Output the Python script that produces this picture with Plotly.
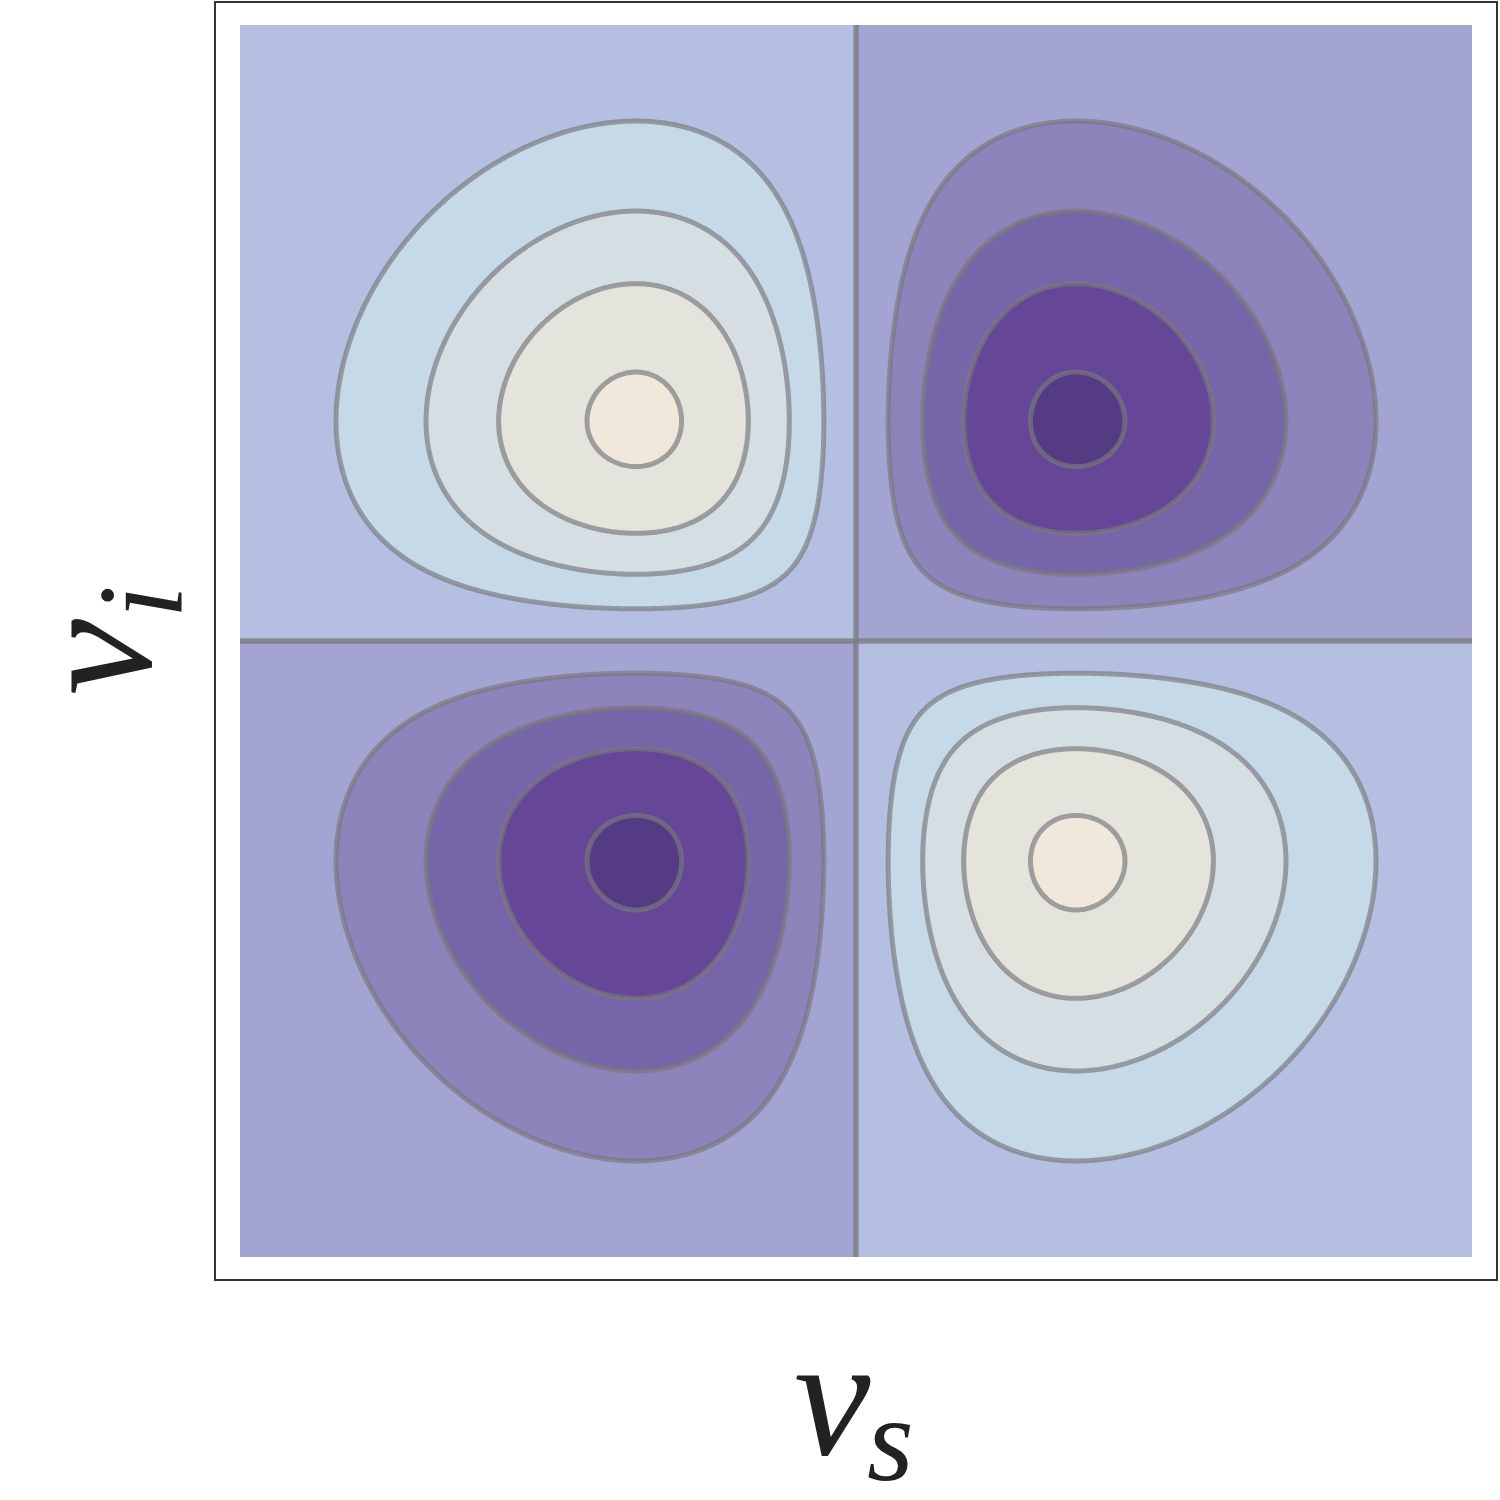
import numpy as np
import plotly.graph_objects as go

# Grid for the signal / idler frequency axes (arbitrary units)
nu_s = np.linspace(-2.8, 2.8, 500)
nu_i = np.linspace(-2.8, 2.8, 500)

# Contour levels of the amplitude
level_start = -0.3512
level_end = 0.3512
level_step = 0.0878

# Band colours, from most negative to most positive
band_colors = [
    "rgb(85,59,131)",
    "rgb(102,70,150)",
    "rgb(118,101,168)",
    "rgb(141,132,188)",
    "rgb(164,164,210)",
    "rgb(181,191,225)",
    "rgb(198,217,233)",
    "rgb(213,223,227)",
    "rgb(228,228,220)",
    "rgb(240,232,218)",
]

# First-order Hermite-Gaussian joint spectral amplitude
X, Y = np.meshgrid(nu_s, nu_i)
amp = -X * Y * np.exp(-(X**2 + Y**2) / 2.0)

n = len(band_colors)
colorscale = []
for k, c in enumerate(band_colors):
    colorscale.append([k / n, c])
    colorscale.append([(k + 1) / n, c])

line_col = "rgba(121,121,125,0.67)"

fig = go.Figure()
fig.add_trace(go.Contour(
    x=nu_s, y=nu_i, z=amp,
    autocontour=False,
    contours=dict(start=level_start, end=level_end, size=level_step, coloring="fill"),
    colorscale=colorscale,
    showscale=False,
    line=dict(color=line_col, width=5),
    hoverinfo="skip",
))
# zero contour drawn slightly heavier, as in the reference
fig.add_trace(go.Contour(
    x=nu_s, y=nu_i, z=amp,
    autocontour=False,
    contours=dict(start=0, end=0, size=1, coloring="none"),
    showscale=False,
    line=dict(color="rgba(121,121,130,0.3)", width=6),
    hoverinfo="skip",
))

fig.update_layout(
    width=1500, height=1500,
    margin=dict(l=216, r=4, t=1, b=221),
    paper_bgcolor="white",
    plot_bgcolor="white",
    showlegend=False,
)
fig.update_xaxes(range=[-2.909, 2.909], showgrid=False, zeroline=False, showticklabels=False,
                 ticks="", showline=True, mirror=True, linecolor="#333333", linewidth=1.5)
fig.update_yaxes(range=[-2.9, 2.9], showgrid=False, zeroline=False, showticklabels=False,
                 ticks="", showline=True, mirror=True, linecolor="#333333", linewidth=1.5)

big = dict(family="Liberation Serif", size=172, color="#222222")
small = dict(family="Liberation Serif", size=120, color="#222222")
# x axis label: ν_s
fig.add_annotation(text="<i>ν</i>", xref="paper", yref="paper",
                   x=0.482, y=-0.0915, xanchor="center", yanchor="middle",
                   showarrow=False, font=big)
fig.add_annotation(text="<i>s</i>", xref="paper", yref="paper",
                   x=0.527, y=-0.126, xanchor="center", yanchor="middle",
                   showarrow=False, font=small)
# y axis label: ν_i
fig.add_annotation(text="<i>ν</i>", xref="paper", yref="paper",
                   x=-0.0969, y=0.488, xanchor="center", yanchor="middle",
                   textangle=-90, showarrow=False, font=big)
fig.add_annotation(text="<i>i</i>", xref="paper", yref="paper",
                   x=-0.0594, y=0.531, xanchor="center", yanchor="middle",
                   textangle=-90, showarrow=False, font=small)

fig.write_html("out.html", config={"displayModeBar": False},
               post_script="document.body.style.margin='0';")
